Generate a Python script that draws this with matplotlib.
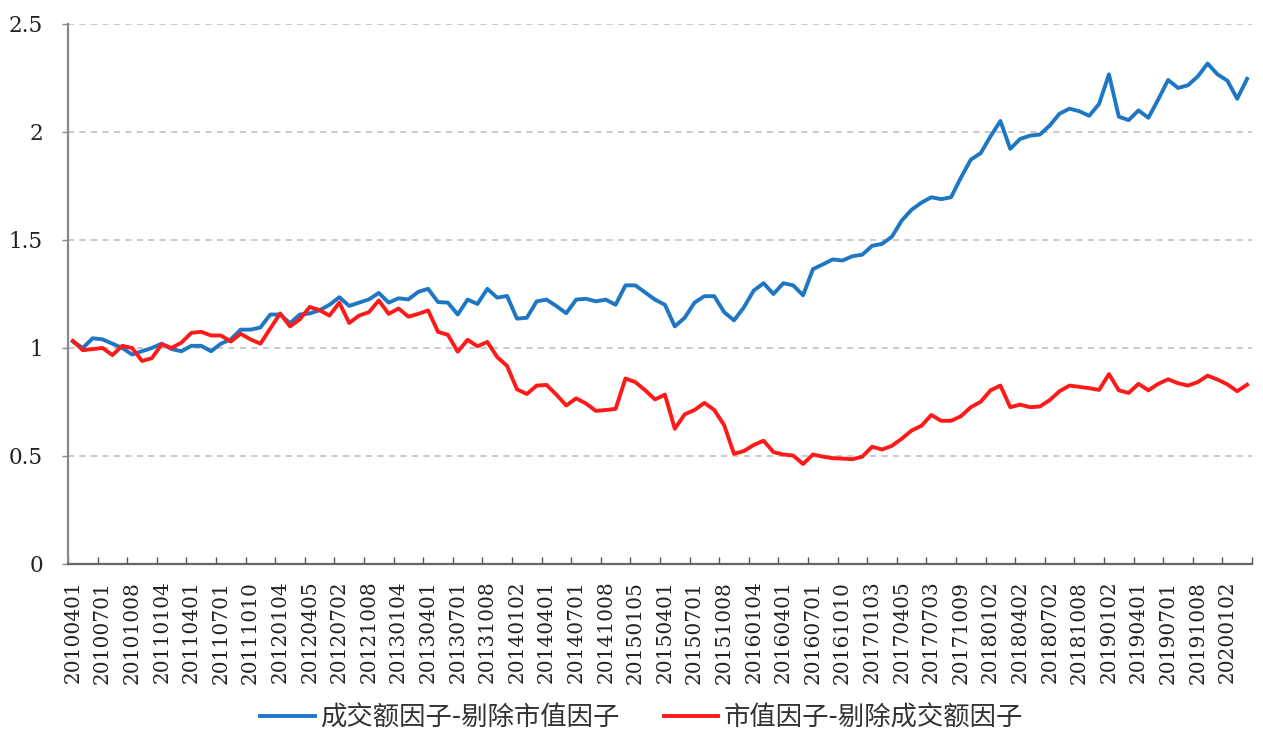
import numpy as np
import matplotlib
matplotlib.use("Agg")
import matplotlib.pyplot as plt

tick_labels = [
    "20100401", "20100701", "20101008", "20110104", "20110401", "20110701",
    "20111010", "20120104", "20120405", "20120702", "20121008", "20130104",
    "20130401", "20130701", "20131008", "20140102", "20140401", "20140701",
    "20141008", "20150105", "20150401", "20150701", "20151008", "20160104",
    "20160401", "20160701", "20161010", "20170103", "20170405", "20170703",
    "20171009", "20180102", "20180402", "20180702", "20181008", "20190102",
    "20190401", "20190701", "20191008", "20200102",
]

series_names = ["成交额因子-剔除市值因子", "市值因子-剔除成交额因子"]

turnover_ex_size = [
    1.03, 1.00, 1.045, 1.04, 1.02, 1.00, 0.97, 0.985, 1.00, 1.02,
    0.995, 0.985, 1.01, 1.01, 0.985, 1.02, 1.04, 1.085, 1.085, 1.095,
    1.155, 1.155, 1.115, 1.155, 1.16, 1.175, 1.20, 1.235, 1.195, 1.21,
    1.225, 1.255, 1.21, 1.23, 1.225, 1.26, 1.274, 1.213, 1.21, 1.155,
    1.224, 1.204, 1.274, 1.233, 1.241, 1.136, 1.14, 1.216, 1.224, 1.194,
    1.161, 1.224, 1.228, 1.216, 1.224, 1.20, 1.29, 1.29, 1.257, 1.224,
    1.20, 1.10, 1.14, 1.21, 1.24, 1.24, 1.166, 1.128, 1.188, 1.266,
    1.30, 1.25, 1.30, 1.29, 1.244, 1.365, 1.387, 1.41, 1.405, 1.425,
    1.432, 1.473, 1.482, 1.515, 1.59, 1.64, 1.673, 1.698, 1.689, 1.698,
    1.789, 1.872, 1.902, 1.98, 2.051, 1.922, 1.968, 1.983, 1.988, 2.03,
    2.085, 2.108, 2.096, 2.075, 2.13, 2.267, 2.071, 2.055, 2.10, 2.066,
    2.151, 2.241, 2.204, 2.216, 2.257, 2.317, 2.267, 2.238, 2.154, 2.246,
]

size_ex_turnover = [
    1.033, 0.99, 0.995, 1.00, 0.967, 1.01, 1.00, 0.94, 0.953, 1.017,
    1.00, 1.025, 1.07, 1.075, 1.058, 1.058, 1.03, 1.066, 1.04, 1.02,
    1.09, 1.16, 1.10, 1.133, 1.19, 1.175, 1.15, 1.21, 1.116, 1.15,
    1.166, 1.22, 1.158, 1.183, 1.145, 1.158, 1.174, 1.075, 1.061, 0.983,
    1.038, 1.008, 1.028, 0.958, 0.917, 0.809, 0.787, 0.826, 0.829, 0.784,
    0.734, 0.767, 0.743, 0.709, 0.713, 0.718, 0.859, 0.842, 0.804, 0.762,
    0.784, 0.626, 0.693, 0.713, 0.746, 0.713, 0.643, 0.51, 0.523, 0.551,
    0.571, 0.518, 0.507, 0.502, 0.463, 0.507, 0.497, 0.49, 0.488, 0.485,
    0.497, 0.543, 0.53, 0.547, 0.58, 0.618, 0.64, 0.69, 0.663, 0.663,
    0.684, 0.726, 0.751, 0.804, 0.826, 0.726, 0.738, 0.726, 0.729, 0.759,
    0.80, 0.826, 0.82, 0.814, 0.806, 0.879, 0.804, 0.792, 0.834, 0.804,
    0.834, 0.855, 0.837, 0.826, 0.842, 0.872, 0.854, 0.832, 0.80, 0.83,
]

y_ticks = [0, 0.5, 1, 1.5, 2, 2.5]
y_tick_labels = ["0", "0.5", "1", "1.5", "2", "2.5"]

plt.rcParams['font.family'] = ['DejaVu Serif']

fig = plt.figure(figsize=(12.63, 7.44), dpi=100)
ax = fig.add_axes([68 / 1263, 1 - 564 / 744, (1252 - 68) / 1263, (564 - 24) / 744])

x = np.arange(len(turnover_ex_size))
ax.plot(x, turnover_ex_size, color="#1F77C4", lw=2.8, label=series_names[0],
        solid_joinstyle="round", zorder=3)
ax.plot(x, size_ex_turnover, color="#FF1A1A", lw=2.8, label=series_names[1],
        solid_joinstyle="round", zorder=3)

ax.set_xlim(-0.5, len(x) - 0.5)
ax.set_ylim(0, 2.5)

ax.set_yticks(y_ticks)
ax.set_yticklabels(y_tick_labels, fontsize=15.5, color="#222222")
ax.yaxis.grid(True, linestyle=(0, (4, 3.5)), color="#BBBBBB", lw=1.1)
ax.set_axisbelow(True)

label_pos = np.arange(0, len(x), 3)[:len(tick_labels)]
ax.set_xticks(label_pos)
ax.set_xticklabels(tick_labels, rotation=90, fontsize=14.5, color="#222222")
ax.set_xticks(np.arange(-0.5, len(x), 3), minor=True)
ax.tick_params(axis="x", which="major", length=0, pad=12)
ax.tick_params(axis="x", which="minor", length=5, direction="in", color="#555555", width=1)
ax.tick_params(axis="y", length=4, direction="out", color="#888888", width=1, pad=14)

for s in ["top", "right"]:
    ax.spines[s].set_visible(False)
ax.spines["left"].set_color("#888888")
ax.spines["bottom"].set_color("#666666")
ax.spines["left"].set_linewidth(1.6)
ax.spines["bottom"].set_linewidth(1.6)

leg = fig.legend(loc="center", bbox_to_anchor=(0.508, 1 - 718 / 744), ncol=2,
                 frameon=False, handlelength=2.05, handletextpad=0.2,
                 columnspacing=1.7,
                 prop={"family": ["Noto Sans CJK SC", "DejaVu Sans"], "size": 19})
for t in leg.get_texts():
    t.set_color("#333333")

fig.savefig("out.png", dpi=100)
